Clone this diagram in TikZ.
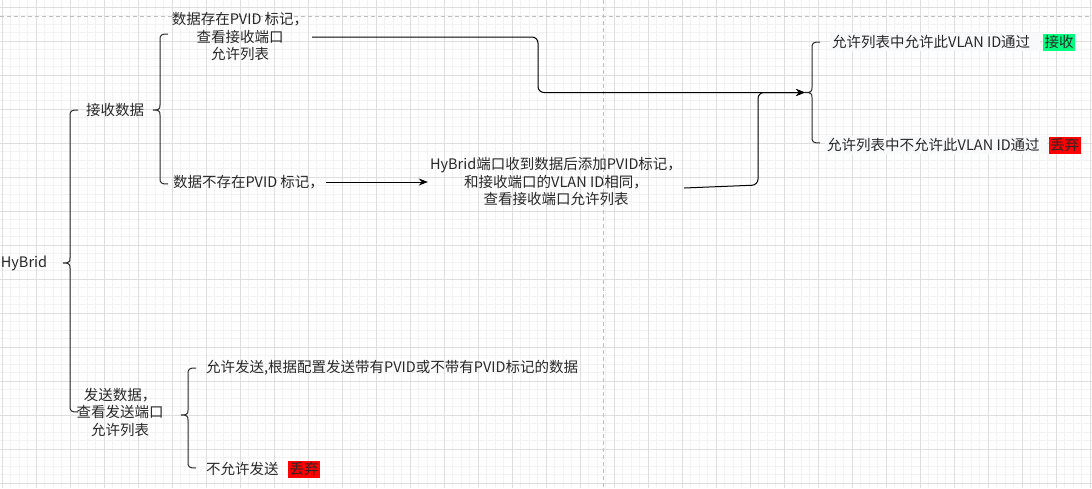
\documentclass[tikz,border=0pt]{standalone}
\usepackage{fontspec}
\setmainfont{Noto Sans CJK SC}
\usetikzlibrary{arrows.meta}

\definecolor{gridminor}{RGB}{242,242,242}
\definecolor{gridmajor}{RGB}{222,222,222}
\definecolor{pageline}{RGB}{190,190,190}
\definecolor{ink}{RGB}{40,40,40}
\definecolor{labelbg}{RGB}{248,249,250}
\definecolor{okgreen}{RGB}{0,255,128}
\definecolor{dropred}{RGB}{255,0,0}

% curly bracket: x of the spine, top end, nib height, bottom end
\newcommand\curlybr[4]{%
  \draw[brace] ({#1+8},#2) .. controls ({#1+1},#2) and (#1,{#2+1}) .. (#1,{#2+6})
    -- (#1,{#3-5}) .. controls (#1,{#3-1}) and ({#1-1},#3) .. ({#1-7},#3)
    .. controls ({#1-1},#3) and (#1,{#3+1}) .. (#1,{#3+5})
    -- (#1,{#4-6}) .. controls (#1,{#4-1}) and ({#1+1},#4) .. ({#1+8},#4);}

\begin{document}
\begin{tikzpicture}[x=1pt,y=-1pt,
  txt/.style={inner sep=0pt,text=ink,font=\fontsize{14.5}{17.5}\selectfont,align=center},
  brace/.style={draw=ink,line width=1pt},
  conn/.style={draw=black,line width=1pt,rounded corners=6pt,-{Stealth[length=9pt,width=7pt]}},
  tag/.style={txt,inner xsep=1.5pt,inner ysep=1pt,minimum height=17pt}]
\useasboundingbox (0,0) rectangle (1092,488);
\fill[white] (0,0) rectangle (1092,488);

% background grid
\foreach \i in {0,...,128} \draw[gridminor,line width=0.8pt] ({2+8.5*\i},0) -- ({2+8.5*\i},488);
\foreach \j in {0,...,56} \draw[gridminor,line width=0.8pt] (0,{7.3+8.5*\j}) -- (1092,{7.3+8.5*\j});
\foreach \i in {0,...,32} \draw[gridmajor,line width=0.8pt] ({2+34*\i},0) -- ({2+34*\i},488);
\foreach \j in {0,...,14} \draw[gridmajor,line width=0.8pt] (0,{7.3+34*\j}) -- (1092,{7.3+34*\j});

% page borders
\draw[pageline,line width=0.8pt,dash pattern=on 4pt off 3pt] (0,16) -- (1092,16);
\draw[pageline,line width=0.8pt,dash pattern=on 4pt off 3pt] (603,0) -- (603,488);

% labels
\node[txt] (hy) at (24,263) {HyBrid};
\node[txt] (recv) at (115,110) {接收数据};
\node[txt,minimum width=144pt] (t1) at (240,37) {数据存在PVID 标记，\\查看接收端口\\允许列表};
\node[txt,minimum width=155pt] (t2) at (248.5,182) {数据不存在PVID 标记，};
\node[txt,minimum width=256pt] (hyrecv) at (556,182) {HyBrid端口收到数据后添加PVID标记，\\和接收端口的VLAN ID相同，\\查看接收端口允许列表};

\node[txt,anchor=west,fill=labelbg,inner xsep=2pt,minimum height=18pt] (ok) at (830,42) {允许列表中允许此VLAN ID通过\hspace{8pt}};
\node[tag,fill=okgreen] (acc) at (1059,42) {接收};
\node[txt,anchor=west,fill=labelbg,inner xsep=2pt,minimum height=18pt] (no) at (825,145) {允许列表中不允许此VLAN ID通过\hspace{5pt}};
\node[tag,fill=dropred] (drop1) at (1064.5,145) {丢弃};

\node[txt] (send) at (120,412) {发送数据，\\查看发送端口\\允许列表};
\node[txt,anchor=west] (s1) at (206,368) {允许发送,根据配置发送带有PVID或不带有PVID标记的数据};
\node[txt,anchor=west] (s2) at (206,469) {不允许发送};
\node[tag,fill=dropred] (drop2) at (304,469) {丢弃};

% brackets
\curlybr{70}{110}{263}{412}
\curlybr{160}{34}{110}{184}
\curlybr{812}{42}{92.5}{143}
\curlybr{188}{368}{415}{468}

% connectors
\coordinate (j) at (805,92.5);
\draw[conn] (t1.east) -- (538,37) -- (538,92.5) -- (j);
\draw[conn] (t2.east) -- (hyrecv.west);
\draw[conn] ([yshift=-6pt]hyrecv.east) -- (758,185) -- (758,92.5) -- (j);
\end{tikzpicture}
\end{document}
